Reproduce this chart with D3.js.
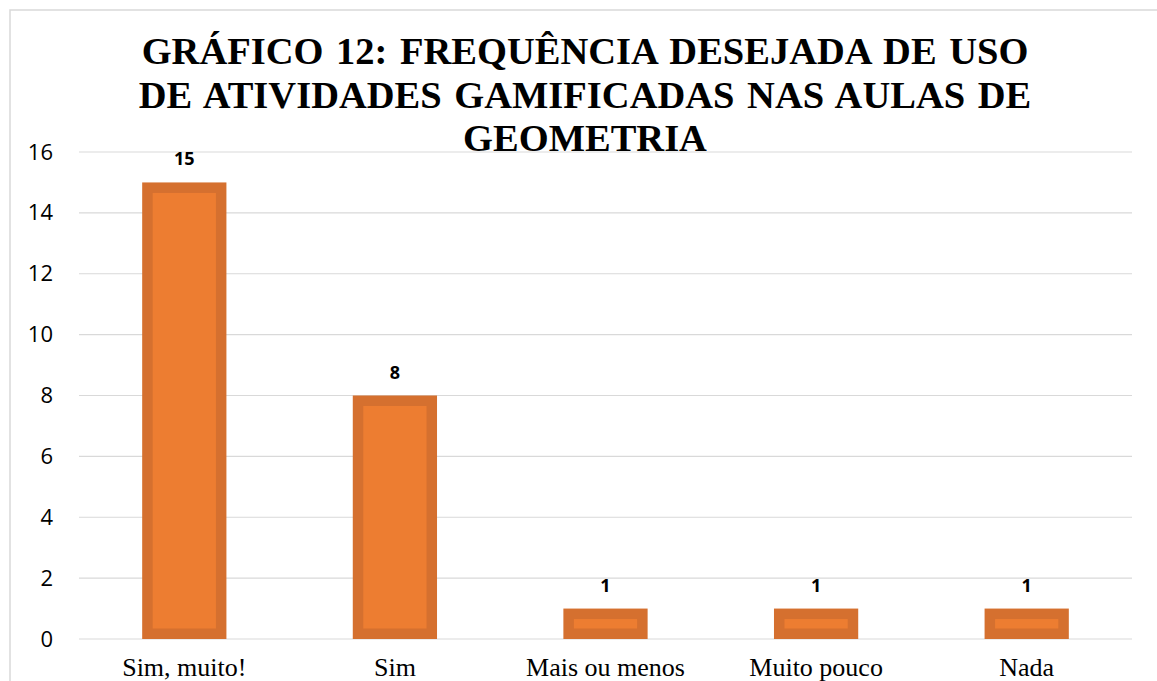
<!DOCTYPE html>
<html><head><meta charset="utf-8">
<script src="https://cdn.jsdelivr.net/npm/d3@7"></script>
<style>body{margin:0;background:#fff}svg{display:block}</style>
</head><body>
<svg id="c" width="1157" height="681"></svg>
<script>
const categories = ["Sim, muito!", "Sim", "Mais ou menos", "Muito pouco", "Nada"];
const values = [15, 8, 1, 1, 1];
const yTicks = [0, 2, 4, 6, 8, 10, 12, 14, 16];
const titleLines = ["GRÁFICO 12: FREQUÊNCIA DESEJADA DE USO", "DE ATIVIDADES GAMIFICADAS NAS AULAS DE", "GEOMETRIA"];

const svg = d3.select("#c");
const m = {left: 79, right: 1132, top: 152, bottom: 639};

// outer chart border
svg.append("rect").attr("x", 10).attr("y", 10).attr("width", 1170).attr("height", 700)
  .attr("fill", "none").attr("stroke", "#d9d9d9").attr("stroke-width", 1.5);

const x = d3.scaleBand().domain(categories).range([m.left, m.right]).paddingInner(0.6).paddingOuter(0.3);
const y = d3.scaleLinear().domain([0, 16]).range([m.bottom, m.top]);

// gridlines
svg.append("g").selectAll("line").data(yTicks).join("line")
  .attr("x1", m.left).attr("x2", m.right)
  .attr("y1", d => y(d)).attr("y2", d => y(d))
  .attr("stroke", "#d9d9d9").attr("stroke-width", 1.2);

// y axis labels
const yAxis = d3.axisLeft(y).tickValues(yTicks).tickSize(0).tickPadding(0);
const gy = svg.append("g").attr("transform", `translate(${m.left - 26},0)`).call(yAxis)
  .attr("font-family", "'Open Sans'").attr("font-size", 22);
gy.select(".domain").remove();
gy.selectAll("text").style("font-family", "'Open Sans'").style("font-size", "22px").attr("fill", "#000");

// x axis labels
const xAxis = d3.axisBottom(x).tickSize(0).tickPadding(0);
const gx = svg.append("g").attr("transform", `translate(0,${m.bottom + 19})`).call(xAxis)
  .attr("font-family", "'Liberation Serif'").attr("font-size", 26);
gx.select(".domain").remove();
gx.selectAll("text").style("font-family", "'Liberation Serif'").style("font-size", "26px").attr("fill", "#000");

// bars
const sw = 10.5;
svg.append("g").selectAll("rect").data(values).join("rect")
  .attr("x", (d, i) => x(categories[i]) + sw / 2)
  .attr("y", d => y(d) + sw / 2)
  .attr("width", x.bandwidth() - sw)
  .attr("height", d => y(0) - y(d) - sw)
  .attr("fill", "#ED7D31").attr("stroke", "#D5702F").attr("stroke-width", sw);

// value labels
svg.append("g").selectAll("text").data(values).join("text")
  .attr("x", (d, i) => x(categories[i]) + x.bandwidth() / 2)
  .attr("y", d => y(d) - 17)
  .attr("text-anchor", "middle")
  .style("font-family", "'Open Sans'")
  .style("font-weight", "bold").style("font-size", "18px").attr("fill", "#000")
  .text(d => d);

// title
svg.append("g").selectAll("text").data(titleLines).join("text")
  .attr("x", 585).attr("y", (d, i) => 64 + i * 43.5)
  .attr("text-anchor", "middle")
  .style("font-family", "'Liberation Serif'")
  .style("font-weight", "bold").style("font-size", "38.5px")
  .style("word-spacing", "3px").attr("fill", "#000")
  .text(d => d);
</script>
</body></html>
